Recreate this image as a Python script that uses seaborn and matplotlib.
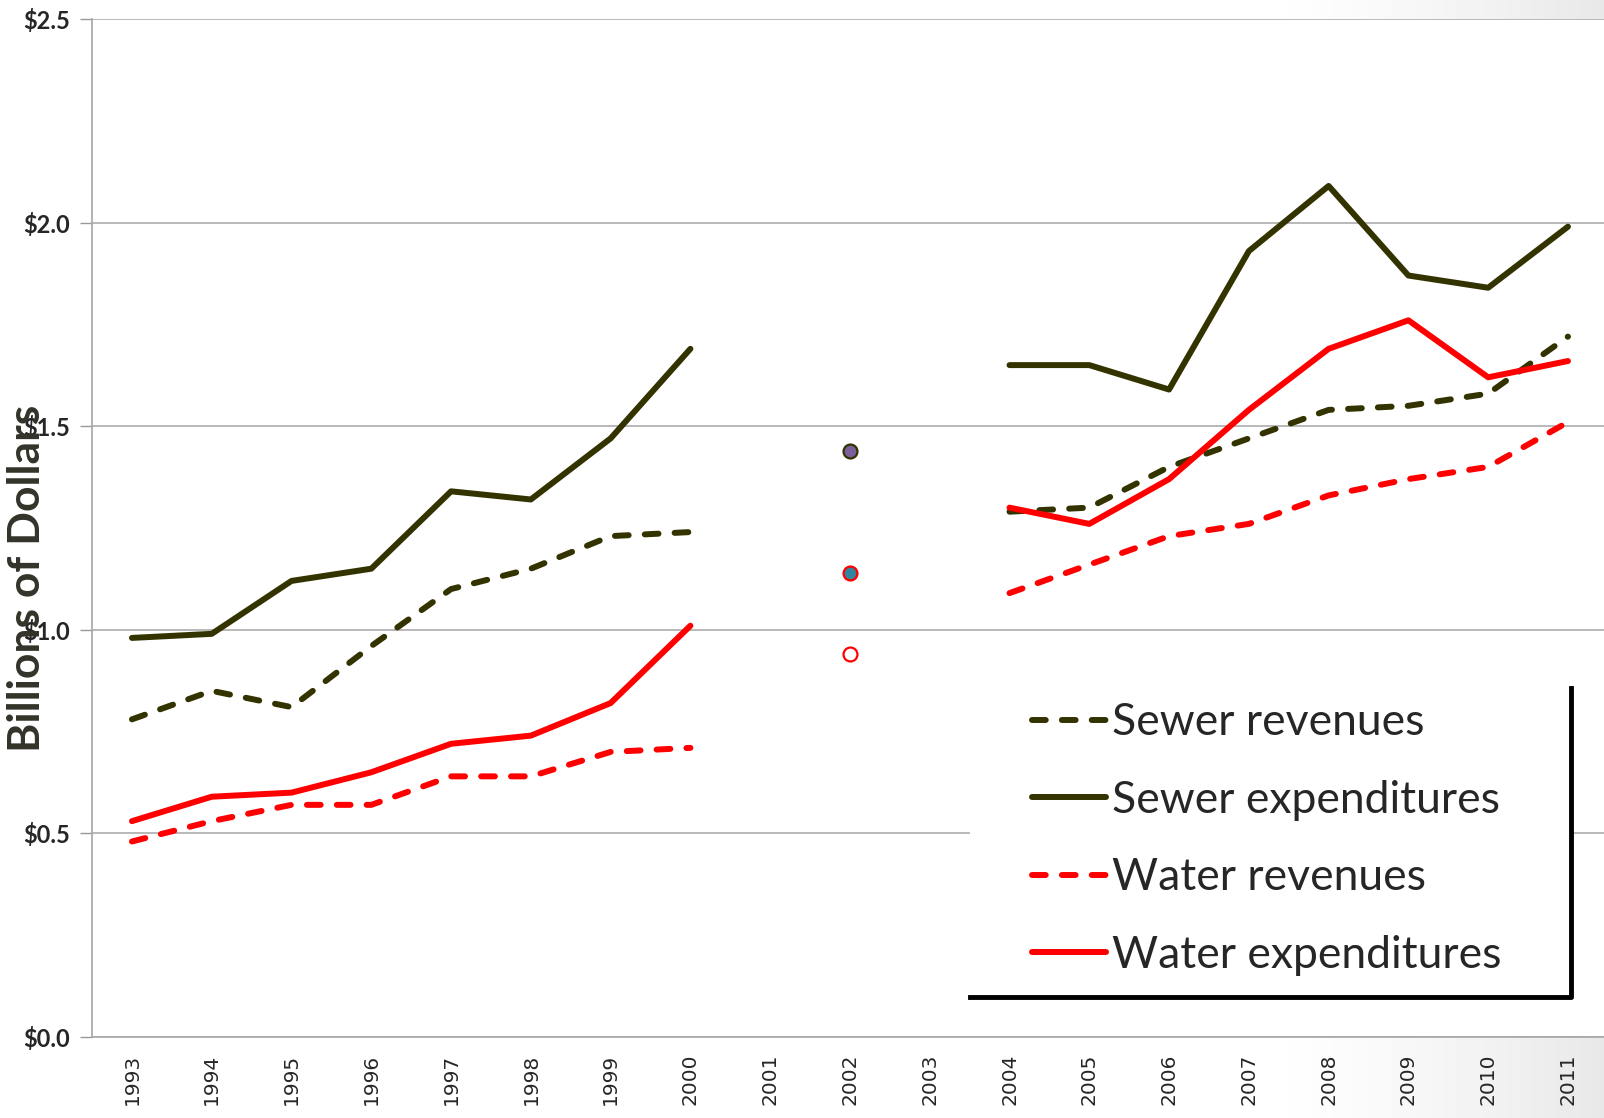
import numpy as np
import pandas as pd
import matplotlib
matplotlib.use("Agg")
import matplotlib.pyplot as plt
from matplotlib.patches import Rectangle
from matplotlib.lines import Line2D
import seaborn as sns

nan = np.nan

years = ["1993", "1994", "1995", "1996", "1997", "1998", "1999", "2000", "2001",
         "2002", "2003", "2004", "2005", "2006", "2007", "2008", "2009", "2010", "2011"]

sewer_revenues = [0.78, 0.85, 0.81, 0.96, 1.10, 1.15, 1.23, 1.24, nan, nan, nan,
                  1.29, 1.30, 1.40, 1.47, 1.54, 1.55, 1.58, 1.72]
sewer_expenditures = [0.98, 0.99, 1.12, 1.15, 1.34, 1.32, 1.47, 1.69, nan, nan, nan,
                      1.65, 1.65, 1.59, 1.93, 2.09, 1.87, 1.84, 1.99]
water_revenues = [0.48, 0.53, 0.57, 0.57, 0.64, 0.64, 0.70, 0.71, nan, nan, nan,
                  1.09, 1.16, 1.23, 1.26, 1.33, 1.37, 1.40, 1.51]
water_expenditures = [0.53, 0.59, 0.60, 0.65, 0.72, 0.74, 0.82, 1.01, nan, nan, nan,
                      1.30, 1.26, 1.37, 1.54, 1.69, 1.76, 1.62, 1.66]

# single 2002 points
points_2002 = [1.44, 1.14, 0.94]
points_face = ["#7A5F9A", "#31859C", "white"]
points_edge = ["#333300", "#FF0000", "#FF0000"]

OLIVE = "#333300"
RED = "#FF0000"
LW = 4.3
DASH = (2.3, 2.7)

series = [
    ("Sewer revenues", sewer_revenues, OLIVE, "dashed"),
    ("Sewer expenditures", sewer_expenditures, OLIVE, "solid"),
    ("Water revenues", water_revenues, RED, "dashed"),
    ("Water expenditures", water_expenditures, RED, "solid"),
]

sns.set_style("white")
plt.rcParams["font.family"] = ["Lato", "DejaVu Sans"]

fig = plt.figure(figsize=(16.04, 11.18), dpi=100)

# faint grey shading toward the right edge of the slide
bg = fig.add_axes([0, 0, 1, 1], zorder=-10)
gx = np.linspace(0, 1, 400)
shade = 1 - 0.09 * np.clip((gx - 0.78) / 0.22, 0, 1) ** 1.4
bg.imshow(np.tile(shade, (50, 1)), cmap="gray", vmin=0, vmax=1, aspect="auto",
          extent=[0, 1, 0, 1])
bg.set_axis_off()

ax = fig.add_axes([0.0574, 0.0725, 0.945, 0.9105], zorder=1)
ax.set_facecolor("white")

pos = np.arange(len(years))
for name, vals, color, style in series:
    df = pd.DataFrame({"x": pos, "y": vals})
    seg_id = df["y"].isna().cumsum()
    df = df.dropna()
    for _, seg in df.groupby(seg_id.loc[df.index]):
        sns.lineplot(data=seg, x="x", y="y", ax=ax, color=color, linewidth=LW,
                     estimator=None, sort=False, zorder=3)
    for ln in ax.lines:
        if ln.get_gid() is None:
            ln.set_gid(name)
            if style == "dashed":
                ln.set_dashes(DASH)
                ln.set_dash_capstyle("round")
            ln.set_solid_capstyle("round")
            ln.set_solid_joinstyle("round")
            ln.set_dash_joinstyle("round")

x2002 = years.index("2002")
for v, fc, ec in zip(points_2002, points_face, points_edge):
    ax.plot([x2002], [v], marker="o", markersize=10, markerfacecolor=fc,
            markeredgecolor=ec, markeredgewidth=1.6, linestyle="none", zorder=4)

ax.set_xlim(-0.5, len(years) - 0.5)
ax.set_ylim(0, 2.5)
ax.set_xticks(pos)
ax.set_xticklabels(years, rotation=90, fontsize=14.5, family="DejaVu Sans")
ax.set_xticks(np.arange(-0.5, len(years), 1.0), minor=True)
ax.tick_params(axis="x", which="major", length=0, pad=12)
ax.tick_params(axis="x", which="minor", length=8, color="#999999", width=1)
ax.set_yticks([0, 0.5, 1.0, 1.5, 2.0, 2.5])
ax.set_yticklabels(["$%.1f" % t for t in [0, 0.5, 1.0, 1.5, 2.0, 2.5]],
                   fontsize=17, fontweight="bold")
ax.tick_params(axis="y", length=9, color="#999999", width=1, pad=7, left=True)
ax.grid(axis="y", color="#A6A6A6", linewidth=1.1, zorder=0)
ax.set_axisbelow(True)
for side in ["top", "right"]:
    ax.spines[side].set_visible(False)
for side in ["left", "bottom"]:
    ax.spines[side].set_color("#A6A6A6")
    ax.spines[side].set_linewidth(1.2)
ax.set_xlabel("")
ax.set_ylabel("")

fig.text(0.017, 0.483, "Billions of Dollars", rotation=90, fontsize=32,
         fontweight="bold", color="#33332A", va="center", ha="center")

# legend box: white panel with heavy right/bottom edge
x0, x1, y0, y1 = 0.579, 0.976, 0.039, 0.343
ax.add_patch(Rectangle((x0, y0), x1 - x0, y1 - y0, transform=ax.transAxes,
                       facecolor="white", edgecolor="none", zorder=5))
ax.add_line(Line2D([x0, x1, x1], [y0, y0, y1], transform=ax.transAxes,
                   color="black", linewidth=3.5, zorder=6, solid_capstyle="projecting"))

handles = []
for name, vals, color, style in series:
    h = Line2D([], [], color=color, linewidth=LW, solid_capstyle="round")
    if style == "dashed":
        h.set_dashes(DASH)
        h.set_dash_capstyle("round")
    handles.append(h)
leg = ax.legend(handles, [s[0] for s in series], loc="upper left",
                bbox_to_anchor=(0.594, 0.368), frameon=False, fontsize=32,
                handlelength=1.65, handletextpad=0.15, labelspacing=0.82)
leg.set_zorder(7)

fig.savefig("out.png", dpi=100)
